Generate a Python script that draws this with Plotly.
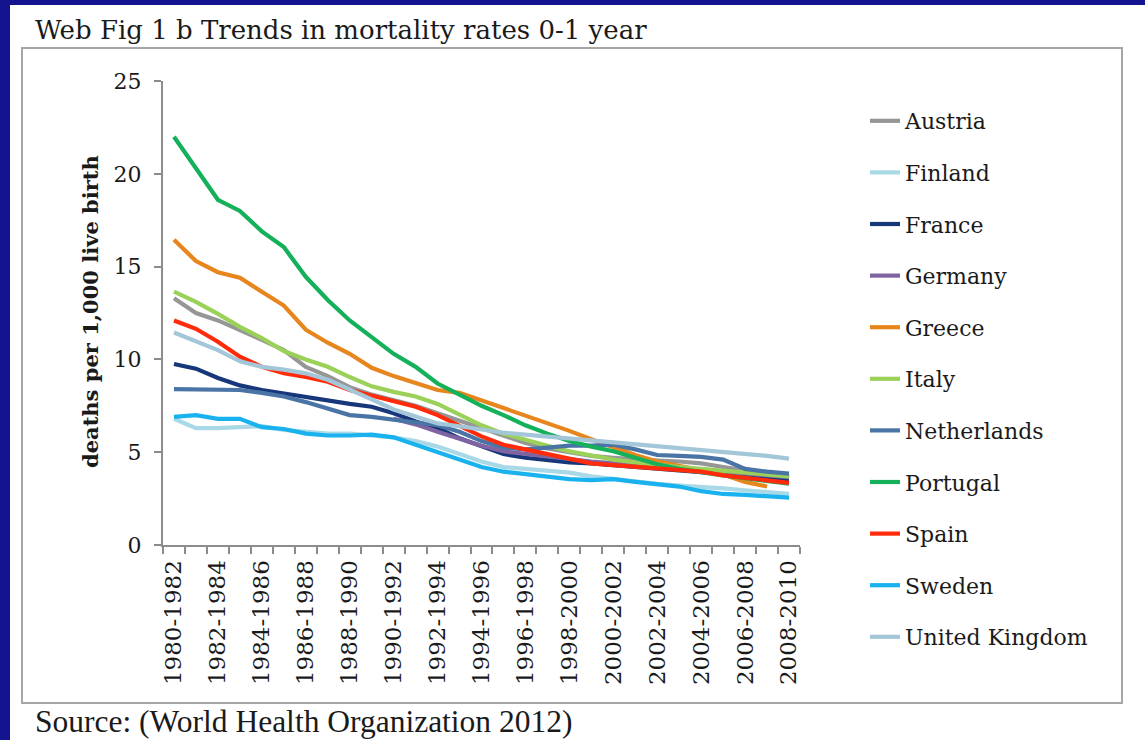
import plotly.graph_objects as go

periods = ["1980-1982", "1981-1983", "1982-1984", "1983-1985", "1984-1986", "1985-1987",
           "1986-1988", "1987-1989", "1988-1990", "1989-1991", "1990-1992", "1991-1993",
           "1992-1994", "1993-1995", "1994-1996", "1995-1997", "1996-1998", "1997-1999",
           "1998-2000", "1999-2001", "2000-2002", "2001-2003", "2002-2004", "2003-2005",
           "2004-2006", "2005-2007", "2006-2008", "2007-2009", "2008-2010"]

austria = [13.3, 12.5, 12.1, 11.6, 11.05, 10.5, 9.6, 9.1, 8.5, 8.1, 7.8, 7.5, 7.1, 6.7, 6.3,
           5.9, 5.5, 5.2, 5.0, 4.8, 4.7, 4.6, 4.55, 4.5, 4.4, 4.2, 4.0, 3.85, 3.7]
finland = [6.8, 6.3, 6.3, 6.35, 6.4, 6.2, 6.1, 6.0, 6.0, 5.9, 5.8, 5.6, 5.3, 4.9, 4.5,
           4.2, 4.1, 4.0, 3.9, 3.7, 3.55, 3.4, 3.3, 3.2, 3.15, 3.05, 2.95, 2.85, 2.75]
france = [9.75, 9.5, 9.0, 8.6, 8.35, 8.15, 8.0, 7.8, 7.6, 7.45, 7.1, 6.65, 6.3, 5.75, 5.3,
          4.9, 4.7, 4.55, 4.45, 4.4, 4.3, 4.2, 4.1, 4.0, 3.9, 3.8, 3.7, 3.6, 3.55]
germany = [None, None, None, None, None, None, None, None, None, None, 6.8, 6.5, 6.1, 5.7, 5.35,
           5.05, 4.9, 4.75, 4.6, 4.5, 4.4, 4.35, 4.25, 4.15, 4.05, 3.95, 3.85, 3.75, 3.65]
greece = [16.45, 15.3, 14.7, 14.4, 13.65, 12.9, 11.6, 10.9, 10.3, 9.55, 9.1, 8.7, 8.35, 8.2, 7.8,
          7.4, 7.0, 6.55, 6.15, 5.7, 5.25, 4.85, 4.5, 4.25, 4.05, 3.8, 3.4, 3.15, None]
italy = [13.65, 13.1, 12.45, 11.75, 11.15, 10.45, 10.0, 9.6, 9.05, 8.55, 8.25, 8.0, 7.6, 7.0, 6.45,
         6.0, 5.65, 5.35, 5.05, 4.8, 4.6, 4.45, 4.3, 4.2, 4.1, 4.0, 3.9, 3.8, 3.7]
netherlands = [8.4, 8.4, 8.4, 8.35, 8.2, 8.0, 7.7, 7.35, 7.0, 6.9, 6.75, 6.6, 6.45, 6.1, 5.6,
               5.25, 5.15, 5.25, 5.35, 5.35, 5.4, 5.15, 4.85, 4.8, 4.75, 4.6, 4.1, 3.95, 3.85]
portugal = [22.0, 20.3, 18.6, 18.0, 16.9, 16.05, 14.45, 13.2, 12.1, 11.2, 10.3, 9.6, 8.7, 8.1, 7.5,
            7.0, 6.45, 6.0, 5.6, 5.3, 5.05, 4.7, 4.35, 4.1, 3.9, 3.75, 3.6, 3.45, 3.3]
spain = [12.1, 11.65, 10.95, 10.15, 9.6, 9.25, 9.05, 8.8, 8.35, 8.05, 7.7, 7.45, 7.0, 6.45, 5.85,
         5.4, 5.15, 4.85, 4.6, 4.4, 4.3, 4.2, 4.1, 4.0, 3.95, 3.75, 3.6, 3.45, 3.35]
sweden = [6.9, 7.0, 6.8, 6.8, 6.35, 6.25, 6.0, 5.9, 5.9, 5.95, 5.8, 5.4, 4.95, 4.55, 4.2,
          3.95, 3.8, 3.65, 3.55, 3.5, 3.55, 3.4, 3.3, 3.15, 2.9, 2.75, 2.7, 2.6, 2.55]
uk = [11.45, 10.95, 10.5, 9.9, 9.6, 9.45, 9.25, 8.9, 8.4, 7.85, 7.3, 6.9, 6.55, 6.4, 6.2,
      6.05, 5.95, 5.85, 5.7, 5.6, 5.5, 5.4, 5.35, 5.25, 5.15, 5.05, 4.9, 4.8, 4.65]

countries = ["Austria", "Finland", "France", "Germany", "Greece", "Italy",
             "Netherlands", "Portugal", "Spain", "Sweden", "United Kingdom"]
series = [austria, finland, france, germany, greece, italy,
          netherlands, portugal, spain, sweden, uk]
colors = ["#969696", "#a9d8e6", "#16377a", "#8064a2", "#e8861e", "#9bd158",
          "#4a74a6", "#14b05a", "#ff2b0a", "#1ab2ee", "#a3c6d8"]

y_ticks = [0, 5, 10, 15, 20, 25]

# layout geometry (pixels)
W, H = 1145, 740
L, R, T, B = 163, 800, 81, 545
PW, PH = R - L, B - T


def px(x):
    return (x - L) / PW


def py(y):
    return (B - y) / PH


SERIF = "DejaVu Serif"
TXT = "#1a1a1a"
AX = "#8c8c8c"
NAVY = "#14148e"

xs = list(range(len(periods)))

fig = go.Figure()
for name, vals, col in zip(countries, series, colors):
    fig.add_trace(go.Scatter(
        x=xs, y=vals, name=name, mode="lines", legendgroup=name,
        line=dict(color=col, width=4.2), connectgaps=False,
    ))

fig.update_layout(
    width=W, height=H,
    margin=dict(l=L, r=W - R, t=T, b=H - B, pad=0),
    paper_bgcolor="white",
    plot_bgcolor="white",
    font=dict(family=SERIF, color=TXT),
    showlegend=True,
    legend=dict(
        x=px(865), y=py(100), xanchor="left", yanchor="top",
        font=dict(family=SERIF, size=22, color=TXT),
        bgcolor="rgba(0,0,0,0)", traceorder="grouped", tracegroupgap=20,
        maxheight=700,
    ),
    xaxis=dict(
        range=[-0.5, len(periods) - 0.5],
        tickmode="array", tickvals=xs[::2], ticktext=periods[::2],
        tickangle=-90, ticks="", ticklabelstandoff=4,
        tickfont=dict(family=SERIF, size=23, color=TXT),
        showline=True, linecolor=AX, linewidth=2,
        showgrid=False, zeroline=False,
        minor=dict(tickmode="array", tickvals=[i - 0.5 for i in range(len(periods) + 1)],
                   ticks="outside", ticklen=7, tickwidth=2, tickcolor=AX, showgrid=False),
    ),
    yaxis=dict(
        range=[0, 25], tickmode="array", tickvals=y_ticks,
        ticks="outside", ticklen=7, tickwidth=2, tickcolor=AX,
        ticklabelstandoff=8,
        tickfont=dict(family=SERIF, size=22, color=TXT),
        showline=True, linecolor=AX, linewidth=2,
        showgrid=False, zeroline=False,
    ),
)

# slide background bands (dark blue) and chart frame
fig.add_shape(type="rect", xref="paper", yref="paper", layer="below",
              x0=px(0), x1=px(W), y0=py(0), y1=py(5), fillcolor=NAVY, line_width=0)
fig.add_shape(type="rect", xref="paper", yref="paper", layer="below",
              x0=px(0), x1=px(10), y0=py(0), y1=py(H), fillcolor=NAVY, line_width=0)
fig.add_shape(type="rect", xref="paper", yref="paper", layer="below",
              x0=px(22), x1=px(1122), y0=py(48), y1=py(703),
              line=dict(color="#a6a6a6", width=2), fillcolor="rgba(0,0,0,0)")

fig.add_annotation(text="Web Fig 1 b Trends in mortality rates 0-1 year",
                   xref="paper", yref="paper", x=px(33), y=py(30),
                   xanchor="left", yanchor="middle", showarrow=False,
                   font=dict(family=SERIF, size=26, color=TXT))
fig.add_annotation(text="Source: (World Health Organization 2012)",
                   xref="paper", yref="paper", x=px(33), y=py(721),
                   xanchor="left", yanchor="middle", showarrow=False,
                   font=dict(family="Liberation Serif", size=31.5, color=TXT))
fig.add_annotation(text="<b>deaths per 1,000 live birth</b>",
                   xref="paper", yref="paper", x=px(90), y=py(312),
                   xanchor="center", yanchor="middle", textangle=-90, showarrow=False,
                   font=dict(family=SERIF, size=21, color=TXT))

fig.write_html(
    "out.html",
    config={"displayModeBar": False},
    post_script="document.body.style.margin='0';document.body.style.overflow='hidden';"
                "document.body.style.background='" + NAVY + "';",
)
